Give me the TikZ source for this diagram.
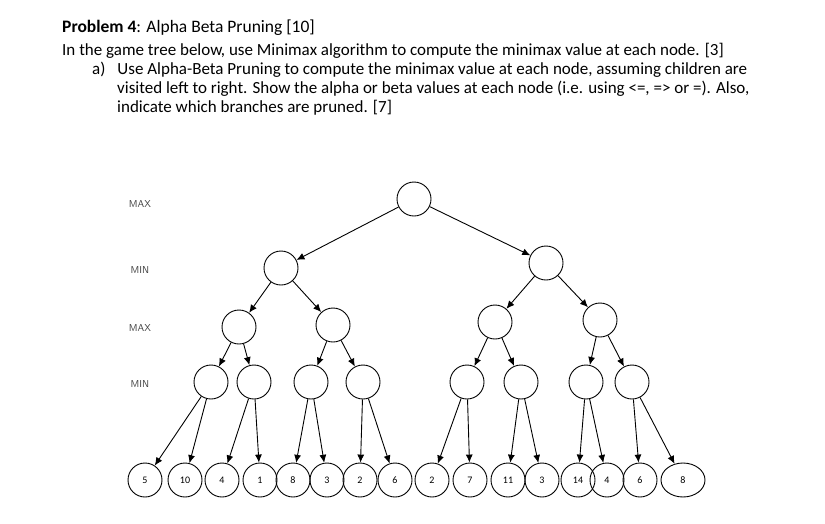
\documentclass[tikz,border=0pt]{standalone}
\usepackage{fontspec}
\usetikzlibrary{shapes.geometric,arrows.meta}
\setmainfont{Carlito}
\begin{document}
\begin{tikzpicture}[x=1pt,y=-1pt,
  nd/.style={draw,circle,minimum size=34pt,inner sep=0pt,line width=0.9pt,font=\fontsize{10}{11}\selectfont},
  lv/.style={font=\sffamily\fontsize{10}{11}\selectfont,text=black!75},
  ar/.style={-{Latex[length=8pt,width=7pt]},line width=0.9pt},
  tx/.style={anchor=west,font=\fontsize{17}{20}\selectfont,inner sep=0pt}]
\useasboundingbox (0,0) rectangle (825,523);
\node[tx,font=\fontsize{17.5}{20}\selectfont] (t) at (62,28) {\textbf{Problem 4}: Alpha Beta Pruning [10]};
\node[tx] (l1) at (62,51) {In the game tree below, use Minimax algorithm to compute the minimax value at each node. [3]};
\node[tx] (l2) at (92,70) {a)\hspace{12pt}Use Alpha-Beta Pruning to compute the minimax value at each node, assuming children are};
\node[tx] (l3) at (117,89) {visited left to right. Show the alpha or beta values at each node (i.e. using <=, => or =). Also,};
\node[tx] (l4) at (117,108) {indicate which branches are pruned. [7]};
\node[lv] (m1) at (140,204) {MAX};
\node[lv] (m2) at (140,270) {MIN};
\node[lv] (m3) at (140,328) {MAX};
\node[lv] (m4) at (140,384) {MIN};
\node[nd] (r) at (414,199) {};
\node[nd] (a) at (281,268) {};
\node[nd] (b) at (546,263) {};
\node[nd] (a1) at (239,327) {};
\node[nd] (a2) at (333,325) {};
\node[nd] (b1) at (495,322) {};
\node[nd] (b2) at (600,320) {};
\foreach \n/\x in {c1/211,c2/254,c3/311,c4/363,c5/467,c6/521,c7/586,c8/632}
  \node[nd] (\n) at (\x,382) {};
\foreach \n/\x/\v in {d1/145/5,d2/185/10,d3/222/4,d4/260/1,d5/293/8,d6/327/3,d7/360/2,d8/395/6,d9/432/2,d10/470/7,d11/508/11,d12/542/3,d13/578/14,d14/607/4,d15/640/6}
  \node[nd] (\n) at (\x,480) {\v};
\node[nd,ellipse,minimum width=44pt,minimum height=34pt] (d16) at (683,480) {8};
\foreach \p/\c in {r/a,r/b,a/a1,a/a2,b/b1,b/b2,a1/c1,a1/c2,a2/c3,a2/c4,b1/c5,b1/c6,b2/c7,b2/c8,
  c1/d1,c1/d2,c2/d3,c2/d4,c3/d5,c3/d6,c4/d7,c4/d8,c5/d9,c5/d10,c6/d11,c6/d12,c7/d13,c7/d14,c8/d15,c8/d16}
  \draw[ar] (\p) -- (\c);
\end{tikzpicture}
\end{document}
